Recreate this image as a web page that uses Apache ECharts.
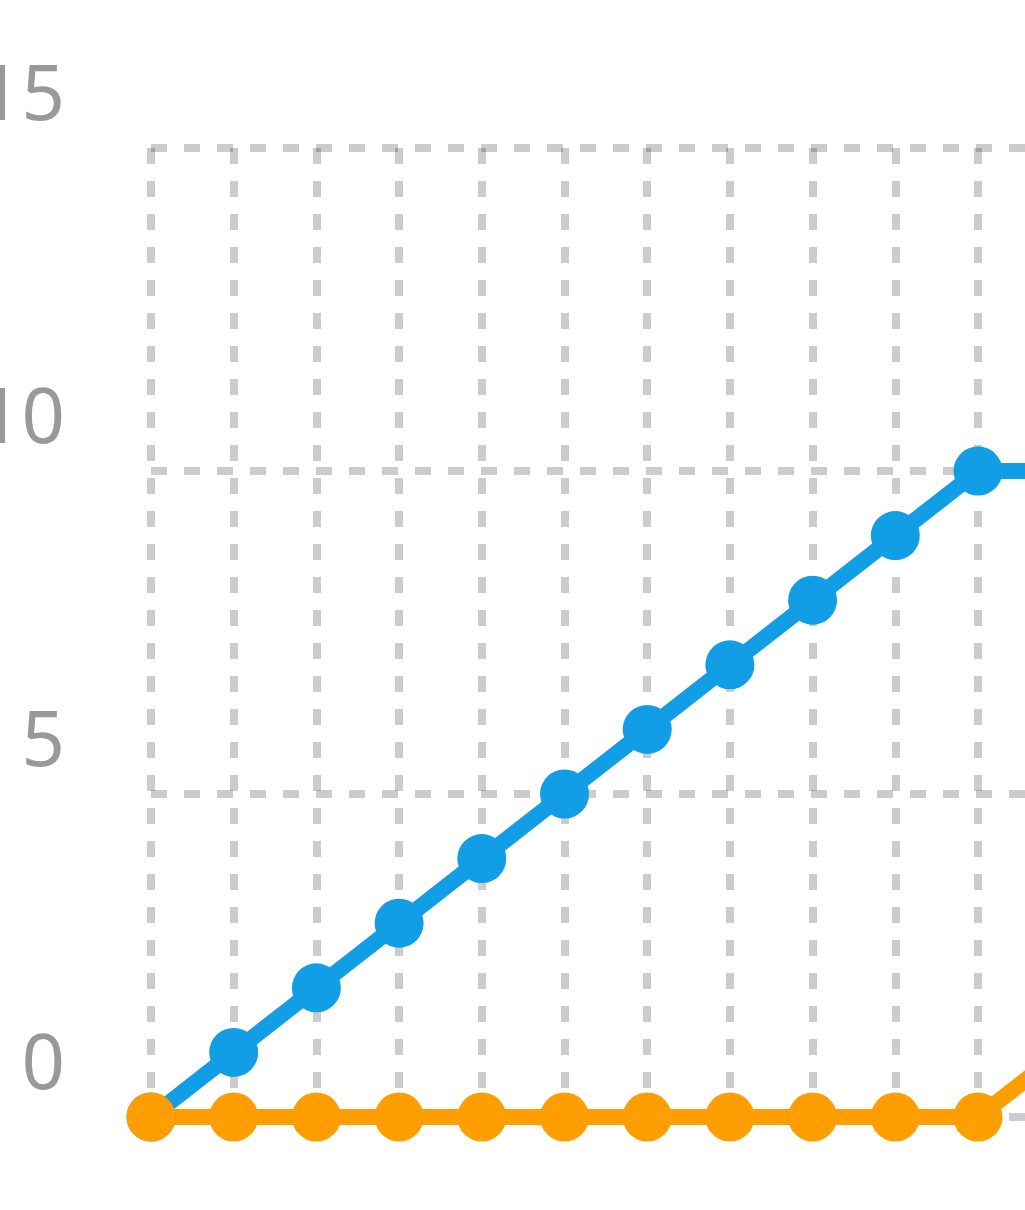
<!DOCTYPE html>
<html>
<head>
<meta charset="utf-8">
<script src="https://cdn.jsdelivr.net/npm/echarts@6/dist/echarts.min.js"></script>
<style>
html,body{margin:0;padding:0;background:#fff;}
#chart{width:1025px;height:1210px;}
</style>
</head>
<body>
<div id="chart"></div>
<script>
const categories = ['1','2','3','4','5','6','7','8','9','10','11','12','13'];
const seriesA = [0,1,2,3,4,5,6,7,8,9,10,10,10];
const seriesB = [0,0,0,0,0,0,0,0,0,0,0,1,2];
const yTicks = [0,5,10,15];

function draw(){
  const chart = echarts.init(document.getElementById('chart'), null, {renderer:'canvas'});
  const gridStyle = {color:'rgba(0,0,0,0.2)', width:8, type:[16,17]};
  chart.setOption({
    animation:false,
    backgroundColor:'#fff',
    grid:{left:151, top:148, width:992.4, height:969, containLabel:false, outerBoundsMode:'none'},
    xAxis:{
      type:'category', data:categories, boundaryGap:false,
      axisLine:{show:false}, axisTick:{show:false}, axisLabel:{show:false},
      splitLine:{show:true, lineStyle:gridStyle}
    },
    yAxis:{
      type:'value', min:yTicks[0], max:yTicks[yTicks.length-1], interval:5,
      axisLine:{show:false}, axisTick:{show:false},
      axisLabel:{
        color:'#999', fontSize:76, fontFamily:'Noto Sans', margin:86,
        verticalAlign:'bottom', lineHeight:100
      },
      splitLine:{show:true, lineStyle:gridStyle}
    },
    series:[
      {type:'line', data:seriesA, symbol:'circle', symbolSize:49, showSymbol:true, showAllSymbol:true,
       lineStyle:{width:16, color:'#129ee6'}, itemStyle:{color:'#129ee6'}},
      {type:'line', data:seriesB, symbol:'circle', symbolSize:49, showSymbol:true, showAllSymbol:true,
       lineStyle:{width:16, color:'#ff9e00'}, itemStyle:{color:'#ff9e00'}}
    ]
  });
}
draw();
</script>
</body>
</html>
